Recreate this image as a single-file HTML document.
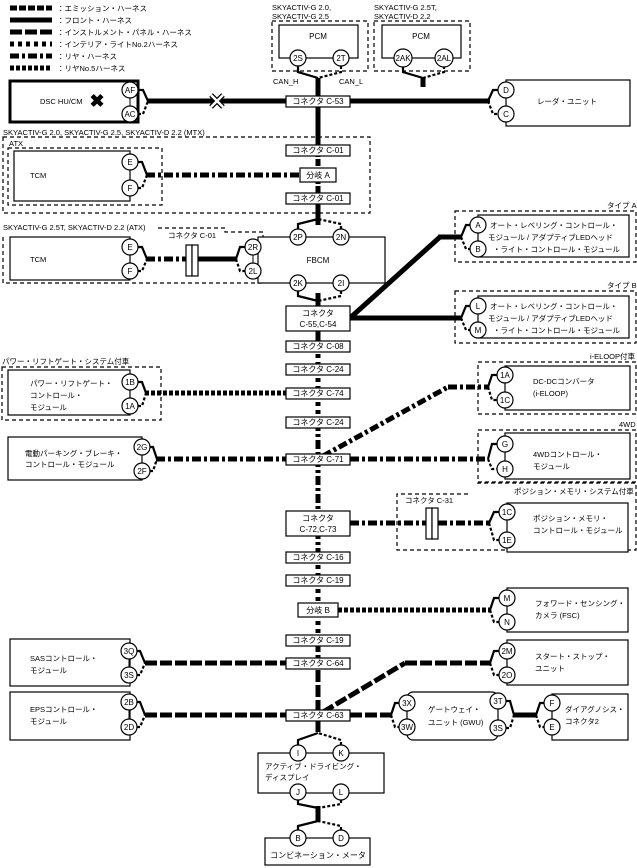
<!DOCTYPE html>
<html><head><meta charset="utf-8"><style>
html,body{margin:0;padding:0;background:#fff}
svg{display:block}
text{font-family:"Liberation Sans","Noto Sans CJK JP",sans-serif;fill:#000}
.t{font-size:7.5px}
.c{font-size:8px;text-anchor:middle}
.h{fill:none;stroke:#000;stroke-width:5}
.em{stroke-dasharray:7 2}
.ip{stroke-dasharray:12 3}
.in{stroke-dasharray:4 4}
.re{stroke-dasharray:9 3 3 3}
.r5{stroke-dasharray:4 2}
.box{fill:#fff;stroke:#000;stroke-width:1.2}
.db{fill:none;stroke:#000;stroke-width:1.2;stroke-dasharray:4 3}
.fk{fill:none;stroke:#000;stroke-width:2.2}
.fd{fill:none;stroke:#000;stroke-width:2.2;stroke-dasharray:3 2}
.ln{stroke:#000;stroke-width:1}
</style></head><body>
<svg width="637" height="868" viewBox="0 0 637 868" xmlns="http://www.w3.org/2000/svg">
<line class="h em" x1="10" y1="8" x2="52" y2="8"/><text class="t" x="57" y="11">：エミッション・ハーネス</text>
<line class="h" x1="10" y1="20" x2="52" y2="20"/><text class="t" x="57" y="23">：フロント・ハーネス</text>
<line class="h ip" x1="10" y1="32" x2="52" y2="32"/><text class="t" x="57" y="35">：インストルメント・パネル・ハーネス</text>
<line class="h in" x1="10" y1="44" x2="52" y2="44"/><text class="t" x="57" y="47">：インテリア・ライトNo.2ハーネス</text>
<line class="h re" x1="10" y1="56" x2="52" y2="56"/><text class="t" x="57" y="59">：リヤ・ハーネス</text>
<line class="h r5" x1="10" y1="68" x2="52" y2="68"/><text class="t" x="57" y="71">：リヤNo.5ハーネス</text>

<line class="h" x1="318" y1="78" x2="318" y2="150"/>
<line class="h em" x1="318" y1="150" x2="318" y2="198"/>
<line class="h" x1="318" y1="198" x2="318" y2="225"/>
<line class="h" x1="318" y1="293" x2="318" y2="346"/>
<line class="h in" x1="318" y1="346" x2="318" y2="422"/>
<line class="h re" x1="318" y1="422" x2="318" y2="557"/>
<line class="h in" x1="318" y1="557" x2="318" y2="640"/>
<line class="h ip" x1="318" y1="640" x2="318" y2="715"/>
<line class="h" x1="318" y1="715" x2="318" y2="732"/>
<line class="h" x1="318" y1="806" x2="318" y2="822"/>

<text class="t" x="272" y="10">SKYACTIV-G 2.0,</text>
<text class="t" x="272" y="19">SKYACTIV-G 2.5</text>
<rect class="db" x="272" y="21" width="96" height="50"/>
<rect class="box" x="279" y="25" width="79" height="33"/>
<text class="c" x="318" y="39">PCM</text>
<path class="fk" d="M298 66 V72 L318 78"/><path class="fd" d="M341 66 V72 L318 78"/>
<circle class="box" cx="298" cy="58" r="8"/><text class="c" x="298" y="61">2S</text>
<circle class="box" cx="341" cy="58" r="8"/><text class="c" x="341" y="61">2T</text>
<text class="t" x="273" y="84">CAN_H</text><text class="t" x="339" y="84">CAN_L</text>
<text class="t" x="374" y="10">SKYACTIV-G 2.5T,</text>
<text class="t" x="374" y="19">SKYACTIV-D 2.2</text>
<rect class="db" x="374" y="21" width="96" height="50"/>
<rect class="box" x="382" y="25" width="79" height="33"/>
<text class="c" x="421" y="39">PCM</text>
<path class="fk" d="M403 66 V72 L423 78"/><path class="fd" d="M444 66 V72 L423 78"/>
<line class="h" x1="423" y1="77" x2="423" y2="87"/>
<circle class="box" cx="403" cy="58" r="9"/><text class="c" x="403" y="61">2AK</text>
<circle class="box" cx="444" cy="58" r="9"/><text class="c" x="444" y="61">2AL</text>

<rect x="10" y="81" width="128" height="41" fill="#fff" stroke="#000" stroke-width="3"/>
<text class="t" x="40" y="104">DSC HU/CM</text>
<text x="97" y="107" style="font-size:18px;font-weight:bold;text-anchor:middle">✖</text>
<line class="ln" x1="130" y1="90" x2="130" y2="114"/>
<path class="fk" d="M138 90 H143 L148 101"/><path class="fd" d="M138 114 H143 L148 101"/>
<circle class="box" cx="130" cy="90" r="8"/><text class="c" x="130" y="93">AF</text>
<circle class="box" cx="130" cy="114" r="8"/><text class="c" x="130" y="117">AC</text>
<line class="h" x1="147" y1="101" x2="286" y2="101"/>
<path d="M211 95 L223 107 M223 95 L211 107" stroke="#000" stroke-width="5"/>
<path d="M211 95 L223 107 M223 95 L211 107" stroke="#fff" stroke-width="2.5"/>
<line class="h" x1="350" y1="101" x2="490" y2="101"/>
<rect class="box" x="506" y="80" width="124" height="46"/>
<text class="t" x="537" y="104">レーダ・ユニット</text>
<line class="ln" x1="506" y1="90" x2="506" y2="114"/>
<path class="fk" d="M488 101 L493 90 H498"/><path class="fd" d="M488 101 L493 114 H498"/>
<circle class="box" cx="506" cy="90" r="8"/><text class="c" x="506" y="93">D</text>
<circle class="box" cx="506" cy="114" r="8"/><text class="c" x="506" y="117">C</text>

<text class="t" x="3" y="135">SKYACTIV-G 2.0, SKYACTIV-G 2.5, SKYACTIV-D 2.2 (MTX)</text>
<rect class="db" x="3" y="137" width="367" height="76"/>
<text class="t" x="9" y="146">ATX</text>
<rect class="db" x="8" y="148" width="154" height="57"/>
<rect class="box" x="14" y="151" width="116" height="50"/>
<text class="t" x="30" y="178">TCM</text>
<line class="ln" x1="130" y1="162" x2="130" y2="188"/>
<path class="fk" d="M138 162 H142 L147 175"/><path class="fd" d="M138 188 H142 L147 175"/>
<circle class="box" cx="130" cy="162" r="8"/><text class="c" x="130" y="165">E</text>
<circle class="box" cx="130" cy="188" r="8"/><text class="c" x="130" y="191">F</text>
<line class="h re" x1="146" y1="175" x2="300" y2="175"/>
<rect class="box" x="300" y="168" width="36" height="14"/><text class="c" x="318" y="178">分岐 A</text>

<text class="t" x="3" y="230">SKYACTIV-G 2.5T, SKYACTIV-D 2.2 (ATX)</text>
<path class="db" d="M158 228 H225 V232 H263 V283 H3 V234"/>
<text class="t" x="168" y="238">コネクタ C-01</text>
<rect class="box" x="10" y="237" width="120" height="43"/>
<text class="t" x="30" y="262">TCM</text>
<line class="ln" x1="130" y1="247" x2="130" y2="271"/>
<path class="fk" d="M138 247 H142 L147 259"/><path class="fd" d="M138 271 H142 L147 259"/>
<circle class="box" cx="130" cy="247" r="8"/><text class="c" x="130" y="250">E</text>
<circle class="box" cx="130" cy="271" r="8"/><text class="c" x="130" y="274">F</text>
<line class="h re" x1="146" y1="259" x2="186" y2="259"/>
<line class="h" x1="198" y1="259" x2="237" y2="259"/>
<rect class="box" x="186" y="245" width="6" height="31"/><rect class="box" x="192" y="245" width="6" height="31"/>
<rect class="box" x="258" y="237" width="127" height="46"/>
<text class="c" x="318" y="263">FBCM</text>
<line class="ln" x1="253" y1="247" x2="253" y2="271"/>
<path class="fk" d="M236 259 L240 247 H245"/><path class="fd" d="M236 259 L240 271 H245"/>
<circle class="box" cx="253" cy="247" r="8"/><text class="c" x="253" y="250">2R</text>
<circle class="box" cx="253" cy="271" r="8"/><text class="c" x="253" y="274">2L</text>
<path class="fk" d="M298 229 V224 L318 219"/><path class="fd" d="M341 229 V224 L318 219"/>
<circle class="box" cx="298" cy="237" r="8"/><text class="c" x="298" y="240">2P</text>
<circle class="box" cx="341" cy="237" r="8"/><text class="c" x="341" y="240">2N</text>
<path class="fk" d="M298 291 V296 L318 301"/><path class="fd" d="M341 291 V296 L318 301"/>
<circle class="box" cx="298" cy="283" r="8"/><text class="c" x="298" y="286">2K</text>
<circle class="box" cx="341" cy="283" r="8"/><text class="c" x="341" y="286">2I</text>

<line class="h" x1="350" y1="318" x2="440" y2="237"/>
<line class="h" x1="438" y1="237" x2="462" y2="237"/>
<line class="h" x1="350" y1="318" x2="462" y2="318"/>
<text class="t" x="607" y="208">タイプ A</text>
<rect class="db" x="455" y="211" width="181" height="51"/>
<rect class="box" x="478" y="215" width="151" height="42"/>
<text class="t" x="490" y="228">オート・レベリング・コントロール・</text>
<text class="t" x="488" y="240">モジュール / アダプティブLEDヘッド</text>
<text class="t" x="493" y="252">・ライト・コントロール・モジュール</text>
<path class="fk" d="M461 237 L466 225 H470"/><path class="fd" d="M461 237 L466 249 H470"/>
<circle class="box" cx="478" cy="225" r="8"/><text class="c" x="478" y="228">A</text>
<circle class="box" cx="478" cy="249" r="8"/><text class="c" x="478" y="252">B</text>
<text class="t" x="607" y="288">タイプ B</text>
<rect class="db" x="455" y="291" width="181" height="52"/>
<rect class="box" x="478" y="296" width="151" height="42"/>
<text class="t" x="490" y="309">オート・レベリング・コントロール・</text>
<text class="t" x="488" y="321">モジュール / アダプティブLEDヘッド</text>
<text class="t" x="493" y="333">・ライト・コントロール・モジュール</text>
<path class="fk" d="M461 318 L466 306 H470"/><path class="fd" d="M461 318 L466 330 H470"/>
<circle class="box" cx="478" cy="306" r="8"/><text class="c" x="478" y="309">L</text>
<circle class="box" cx="478" cy="330" r="8"/><text class="c" x="478" y="333">M</text>

<text class="t" x="2" y="364">パワー・リフトゲート・システム付車</text>
<rect class="db" x="2" y="367" width="159" height="53"/>
<rect class="box" x="8" y="370" width="122" height="45"/>
<text class="t" x="30" y="386">パワー・リフトゲート・</text>
<text class="t" x="30" y="398">コントロール・</text>
<text class="t" x="30" y="410">モジュール</text>
<line class="ln" x1="130" y1="382" x2="130" y2="406"/>
<path class="fk" d="M138 382 H142 L146 393"/><path class="fd" d="M138 406 H142 L146 393"/>
<circle class="box" cx="130" cy="382" r="8"/><text class="c" x="130" y="385">1B</text>
<circle class="box" cx="130" cy="406" r="8"/><text class="c" x="130" y="409">1A</text>
<line class="h r5" x1="145" y1="393" x2="286" y2="393"/>

<line class="h re" x1="323" y1="456" x2="448" y2="387"/>
<line class="h re" x1="448" y1="387" x2="489" y2="387"/>
<text class="t" x="590" y="359">i-ELOOP付車</text>
<rect class="db" x="478" y="362" width="158" height="52"/>
<rect class="box" x="505" y="366" width="125" height="44"/>
<text class="t" x="533" y="384">DC-DCコンバータ</text>
<text class="t" x="533" y="396">(i-ELOOP)</text>
<line class="ln" x1="505" y1="375" x2="505" y2="400"/>
<path class="fk" d="M488 387 L492 375 H497"/><path class="fd" d="M488 387 L492 400 H497"/>
<circle class="box" cx="505" cy="375" r="8"/><text class="c" x="505" y="378">1A</text>
<circle class="box" cx="505" cy="400" r="8"/><text class="c" x="505" y="403">1C</text>

<rect class="box" x="8" y="437" width="134" height="43"/>
<text class="t" x="25" y="456">電動パーキング・ブレーキ・</text>
<text class="t" x="25" y="467">コントロール・モジュール</text>
<line class="ln" x1="142" y1="447" x2="142" y2="471"/>
<path class="fk" d="M150 447 H153 L157 459"/><path class="fd" d="M150 471 H153 L157 459"/>
<circle class="box" cx="142" cy="447" r="8"/><text class="c" x="142" y="450">2G</text>
<circle class="box" cx="142" cy="471" r="8"/><text class="c" x="142" y="474">2F</text>
<line class="h re" x1="156" y1="459" x2="286" y2="459"/>
<line class="h re" x1="350" y1="459" x2="489" y2="459"/>
<text class="t" x="619" y="427">4WD</text>
<rect class="db" x="478" y="430" width="158" height="52"/>
<rect class="box" x="505" y="433" width="125" height="46"/>
<text class="t" x="533" y="457">4WDコントロール・</text>
<text class="t" x="533" y="469">モジュール</text>
<line class="ln" x1="505" y1="444" x2="505" y2="469"/>
<path class="fk" d="M488 459 L492 444 H497"/><path class="fd" d="M488 459 L492 469 H497"/>
<circle class="box" cx="505" cy="444" r="8"/><text class="c" x="505" y="447">G</text>
<circle class="box" cx="505" cy="469" r="8"/><text class="c" x="505" y="472">H</text>

<line class="h re" x1="350" y1="523" x2="426" y2="523"/>
<line class="h re" x1="438" y1="523" x2="490" y2="523"/>
<text class="t" x="514" y="494">ポジション・メモリ・システム付車</text>
<path class="db" d="M478 484 V483 H636 V550 H397 V494 H470"/>
<text class="t" x="405" y="503">コネクタ C-31</text>
<rect class="box" x="426" y="508" width="6" height="31"/><rect class="box" x="432" y="508" width="6" height="31"/>
<rect class="box" x="507" y="503" width="121" height="49"/>
<text class="t" x="533" y="521">ポジション・メモリ・</text>
<text class="t" x="533" y="533">コントロール・モジュール</text>
<path class="fk" d="M489 523 L494 512 H499"/><path class="fd" d="M489 523 L494 540 H499"/>
<circle class="box" cx="507" cy="512" r="8"/><text class="c" x="507" y="515">1C</text>
<circle class="box" cx="507" cy="540" r="8"/><text class="c" x="507" y="543">1E</text>

<line class="h r5" x1="338" y1="610" x2="491" y2="610"/>
<rect class="box" x="507" y="588" width="121" height="44"/>
<text class="t" x="535" y="606">フォワード・センシング・</text>
<text class="t" x="535" y="618">カメラ (FSC)</text>
<line class="ln" x1="507" y1="598" x2="507" y2="622"/>
<path class="fk" d="M490 610 L494 598 H499"/><path class="fd" d="M490 610 L494 622 H499"/>
<circle class="box" cx="507" cy="598" r="8"/><text class="c" x="507" y="601">M</text>
<circle class="box" cx="507" cy="622" r="8"/><text class="c" x="507" y="625">N</text>

<rect class="box" x="10" y="639" width="120" height="47"/>
<text class="t" x="30" y="661">SASコントロール・</text>
<text class="t" x="30" y="673">モジュール</text>
<line class="ln" x1="129" y1="651" x2="129" y2="675"/>
<path class="fk" d="M137 651 H140 L145 663"/><path class="fd" d="M137 675 H140 L145 663"/>
<circle class="box" cx="129" cy="651" r="8"/><text class="c" x="129" y="654">3Q</text>
<circle class="box" cx="129" cy="675" r="8"/><text class="c" x="129" y="678">3S</text>
<line class="h ip" x1="145" y1="663" x2="286" y2="663"/>
<line class="h ip" x1="323" y1="712" x2="405" y2="663"/>
<line class="h ip" x1="405" y1="663" x2="491" y2="663"/>
<rect class="box" x="507" y="640" width="121" height="45"/>
<text class="t" x="535" y="659">スタート・ストップ・</text>
<text class="t" x="535" y="671">ユニット</text>
<line class="ln" x1="507" y1="651" x2="507" y2="675"/>
<path class="fk" d="M490 663 L494 651 H499"/><path class="fd" d="M490 663 L494 675 H499"/>
<circle class="box" cx="507" cy="651" r="8"/><text class="c" x="507" y="654">2M</text>
<circle class="box" cx="507" cy="675" r="8"/><text class="c" x="507" y="678">2O</text>

<rect class="box" x="10" y="692" width="120" height="48"/>
<text class="t" x="30" y="712">EPSコントロール・</text>
<text class="t" x="30" y="724">モジュール</text>
<line class="ln" x1="129" y1="702" x2="129" y2="727"/>
<path class="fk" d="M137 702 H140 L145 715"/><path class="fd" d="M137 727 H140 L145 715"/>
<circle class="box" cx="129" cy="702" r="8"/><text class="c" x="129" y="705">2B</text>
<circle class="box" cx="129" cy="727" r="8"/><text class="c" x="129" y="730">2D</text>
<line class="h ip" x1="145" y1="715" x2="286" y2="715"/>
<line class="h ip" x1="350" y1="715" x2="392" y2="715"/>
<rect class="box" x="407" y="692" width="91" height="48" rx="6"/>
<text class="t" x="428" y="712">ゲートウェイ・</text>
<text class="t" x="428" y="725">ユニット (GWU)</text>
<line class="ln" x1="407" y1="703" x2="407" y2="727"/>
<line class="ln" x1="498" y1="701" x2="498" y2="728"/>
<path class="fk" d="M391 715 L395 703 H399"/><path class="fd" d="M391 715 L395 727 H399"/>
<path class="fk" d="M506 701 H510 L514 715"/><path class="fd" d="M506 728 H510 L514 715"/>
<circle class="box" cx="407" cy="703" r="8"/><text class="c" x="407" y="706">3X</text>
<circle class="box" cx="407" cy="727" r="8"/><text class="c" x="407" y="730">3W</text>
<circle class="box" cx="498" cy="701" r="8"/><text class="c" x="498" y="704">3T</text>
<circle class="box" cx="498" cy="728" r="8"/><text class="c" x="498" y="731">3S</text>
<line class="h" x1="513" y1="715" x2="537" y2="715"/>
<rect class="box" x="552" y="694" width="76" height="46"/>
<text class="t" x="565" y="712">ダイアグノシス・</text>
<text class="t" x="565" y="724">コネクタ2</text>
<line class="ln" x1="552" y1="703" x2="552" y2="727"/>
<path class="fk" d="M536 715 L540 703 H544"/><path class="fd" d="M536 715 L540 727 H544"/>
<circle class="box" cx="552" cy="703" r="8"/><text class="c" x="552" y="706">F</text>
<circle class="box" cx="552" cy="727" r="8"/><text class="c" x="552" y="730">E</text>

<rect class="box" x="258" y="753" width="126" height="40"/>
<text class="t" x="265" y="769">アクティブ・ドライビング・</text>
<text class="t" x="265" y="780">ディスプレイ</text>
<path class="fk" d="M298 745 V740 L318 733"/><path class="fd" d="M341 745 V740 L318 733"/>
<circle class="box" cx="298" cy="753" r="8"/><text class="c" x="298" y="756">I</text>
<circle class="box" cx="341" cy="753" r="8"/><text class="c" x="341" y="756">K</text>
<path class="fk" d="M298 800 V804 L318 808"/><path class="fd" d="M341 800 V804 L318 808"/>
<circle class="box" cx="298" cy="792" r="8"/><text class="c" x="298" y="795">J</text>
<circle class="box" cx="341" cy="792" r="8"/><text class="c" x="341" y="795">L</text>
<path class="fk" d="M298 830 V826 L318 821"/><path class="fd" d="M341 830 V826 L318 821"/>
<rect class="box" x="265" y="838" width="105" height="27"/>
<text class="c" x="318" y="858">コンビネーション・メータ</text>
<circle class="box" cx="298" cy="838" r="8"/><text class="c" x="298" y="841">B</text>
<circle class="box" cx="341" cy="838" r="8"/><text class="c" x="341" y="841">D</text>

<g>
<rect class="box" x="286" y="96" width="64" height="11"/><text class="c" x="318" y="104">コネクタ C-53</text>
<rect class="box" x="286" y="145" width="64" height="11"/><text class="c" x="318" y="153">コネクタ C-01</text>
<rect class="box" x="286" y="193" width="64" height="11"/><text class="c" x="318" y="201">コネクタ C-01</text>
<rect class="box" x="286" y="306" width="64" height="25"/><text class="c" x="318" y="316">コネクタ</text><text class="c" x="318" y="327">C-55,C-54</text>
<rect class="box" x="286" y="341" width="64" height="11"/><text class="c" x="318" y="349">コネクタ C-08</text>
<rect class="box" x="286" y="364" width="64" height="11"/><text class="c" x="318" y="372">コネクタ C-24</text>
<rect class="box" x="286" y="388" width="64" height="11"/><text class="c" x="318" y="396">コネクタ C-74</text>
<rect class="box" x="286" y="417" width="64" height="11"/><text class="c" x="318" y="425">コネクタ C-24</text>
<rect class="box" x="286" y="454" width="64" height="11"/><text class="c" x="318" y="462">コネクタ C-71</text>
<rect class="box" x="286" y="511" width="64" height="25"/><text class="c" x="318" y="521">コネクタ</text><text class="c" x="318" y="532">C-72,C-73</text>
<rect class="box" x="286" y="552" width="64" height="11"/><text class="c" x="318" y="560">コネクタ C-16</text>
<rect class="box" x="286" y="575" width="64" height="11"/><text class="c" x="318" y="583">コネクタ C-19</text>
<rect class="box" x="298" y="603" width="40" height="14"/><text class="c" x="318" y="613">分岐 B</text>
<rect class="box" x="286" y="635" width="64" height="11"/><text class="c" x="318" y="643">コネクタ C-19</text>
<rect class="box" x="286" y="658" width="64" height="11"/><text class="c" x="318" y="666">コネクタ C-64</text>
<rect class="box" x="286" y="710" width="64" height="11"/><text class="c" x="318" y="718">コネクタ C-63</text>
</g>
</svg>
</body></html>
